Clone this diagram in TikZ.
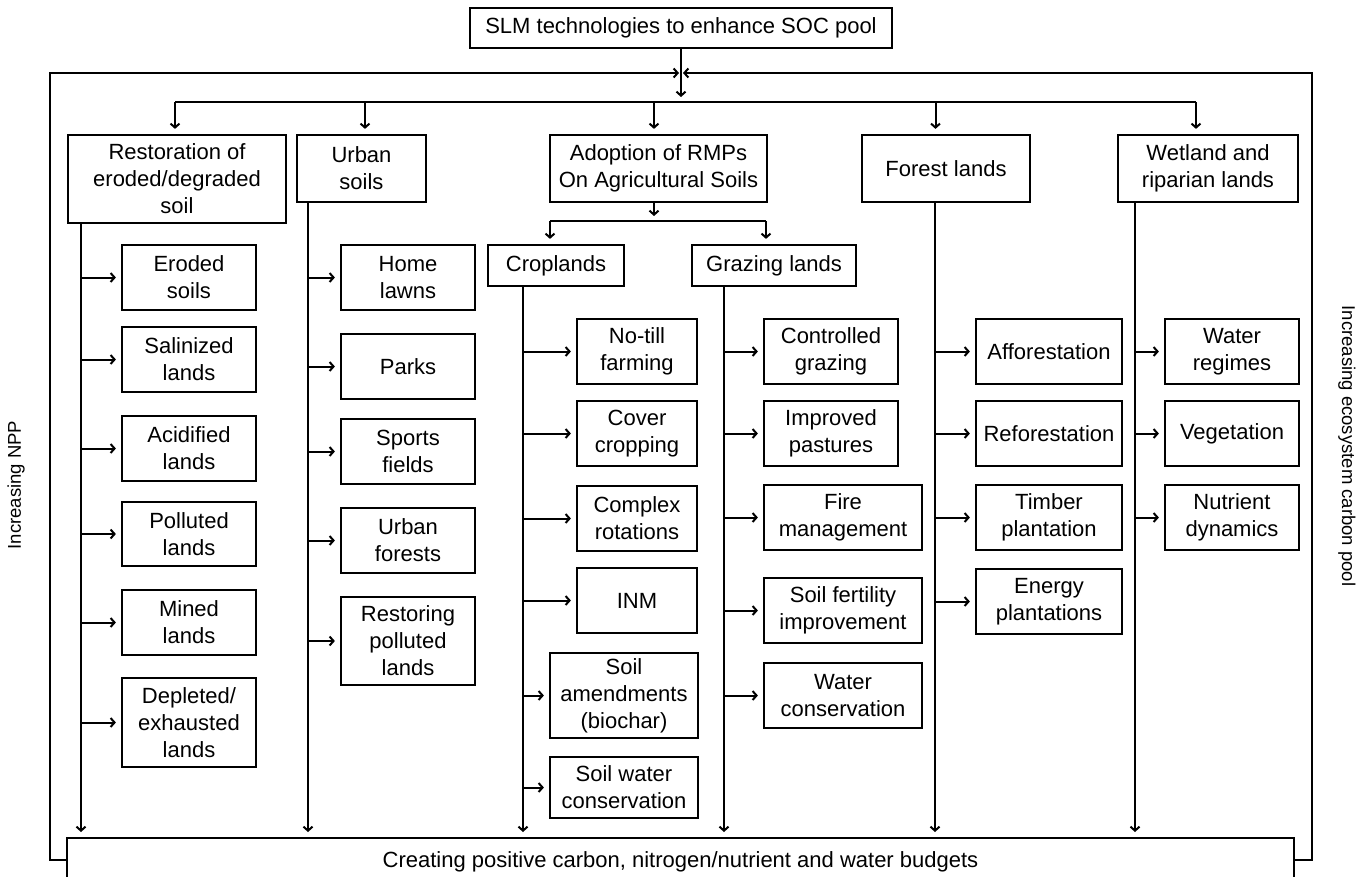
\documentclass[tikz,border=0pt]{standalone}
\usepackage{fontspec}
\setmainfont{Liberation Sans}
\usetikzlibrary{arrows.meta,calc}
\newcommand\bx[6]{\node[box,minimum width={(#4)-(#2)},minimum height={(#5)-(#3)}] (#1) at ({((#2)+(#4))/2},{((#3)+(#5))/2}) {#6};}
\begin{document}
\begin{tikzpicture}[x=1pt,y=-1pt,
  box/.style={draw,line width=2.2pt,inner sep=0pt,align=center,font=\fontsize{22}{27}\selectfont},
  arr/.style={line width=2pt,-{Straight Barb[length=4pt,width=9pt]},shorten >=5pt},
  ln/.style={line width=2pt},
  side/.style={font=\fontsize{18.5}{22}\selectfont}]
\useasboundingbox (0,0) rectangle (1371,876);
% top level
\bx{title}{470}{8}{892}{48}{SLM technologies to enhance SOC pool}
\bx{rest}{68}{135}{286}{223}{Restoration of\\eroded/degraded\\soil}
\bx{urban}{297}{135}{426}{202}{Urban\\soils}
\bx{adop}{550}{135}{767}{202}{Adoption of RMPs\\On Agricultural Soils}
\bx{forest}{862}{135}{1030}{202}{Forest lands}
\bx{wet}{1118}{135}{1298}{202}{Wetland and\\riparian lands}
\bx{crop}{488}{245}{624}{286}{Croplands}
\bx{graz}{692}{245}{856}{286}{Grazing lands}
% restoration children
\bx{eroded}{122}{245}{256}{310}{Eroded\\soils}
\bx{salin}{122}{327}{256}{392}{Salinized\\lands}
\bx{acid}{122}{416}{256}{481}{Acidified\\lands}
\bx{poll}{122}{502}{256}{566}{Polluted\\lands}
\bx{mined}{122}{590}{256}{655}{Mined\\lands}
\bx{depl}{122}{678}{256}{767}{Depleted/\\exhausted\\lands}
% urban children
\bx{home}{341}{245}{475}{310}{Home\\lawns}
\bx{parks}{341}{334}{475}{399}{Parks}
\bx{sports}{341}{419}{475}{484}{Sports\\fields}
\bx{ufor}{341}{508}{475}{573}{Urban\\forests}
\bx{restp}{341}{597}{475}{685}{Restoring\\polluted\\lands}
% cropland children
\bx{notill}{577}{319}{697}{384}{No-till\\farming}
\bx{cover}{577}{401}{697}{466}{Cover\\cropping}
\bx{compl}{577}{486}{697}{551}{Complex\\rotations}
\bx{inm}{577}{568}{697}{633}{INM}
\bx{amend}{550}{653}{698}{738}{Soil\\amendments\\(biochar)}
\bx{swc}{550}{757}{698}{818}{Soil water\\conservation}
% grazing children
\bx{contr}{764}{319}{898}{384}{Controlled\\grazing}
\bx{impr}{764}{401}{898}{466}{Improved\\pastures}
\bx{fire}{764}{485}{922}{550}{Fire\\management}
\bx{fert}{764}{578}{922}{643}{Soil fertility\\improvement}
\bx{wcons}{764}{663}{922}{728}{Water\\conservation}
% forest children
\bx{affo}{976}{319}{1122}{384}{Afforestation}
\bx{refo}{976}{401}{1122}{466}{Reforestation}
\bx{timb}{976}{485}{1122}{550}{Timber\\plantation}
\bx{ener}{976}{569}{1122}{634}{Energy\\plantations}
% wetland children
\bx{wreg}{1165}{319}{1299}{384}{Water\\regimes}
\bx{veg}{1165}{401}{1299}{466}{Vegetation}
\bx{nutr}{1165}{485}{1299}{550}{Nutrient\\dynamics}
% bottom box
\node[box,anchor=north,minimum width=1227pt,text height=29pt,text depth=14pt] (bot) at (680.5,837) {Creating positive carbon, nitrogen/nutrient and water budgets};
% side labels
\node[side,rotate=90] (npp) at (16,485) {Increasing NPP};
\node[side,rotate=-90] (ecp) at (1347,446) {Increasing ecosystem carbon pool};
% distributor
\coordinate (j) at (title.south |- 0,73);
\coordinate (dl) at (175,102);
\coordinate (d2) at (365,102);
\coordinate (d3) at (654,102);
\coordinate (d4) at (935.5,102);
\coordinate (dr) at (1196,102);
\draw[arr] (title.south) -- (title.south |- dl);
\draw[ln] (dl) -- (dr);
\draw[arr] (dl) -- (dl |- rest.north);
\draw[arr] (d2) -- (d2 |- urban.north);
\draw[arr] (d3) -- (d3 |- adop.north);
\draw[arr] (d4) -- (d4 |- forest.north);
\draw[arr] (dr) -- (dr |- wet.north);
% feedback loops
\coordinate (lc) at (50,73);
\coordinate (rc) at (1312,73);
\draw[arr,shorten >=2pt] (bot.west) -| (lc) -- (j);
\draw[arr,shorten >=2pt] (bot.east) -| (rc) -- (j);
% agricultural sub-distributor
\coordinate (s) at (654,221);
\coordinate (sl) at (550,221);
\coordinate (sr) at (766,221);
\draw[arr] (adop.south -| s) -- (s);
\draw[ln] (sl) -- (sr);
\draw[arr] (sl) -- (sl |- crop.north);
\draw[arr] (sr) -- (sr |- graz.north);
% trunks and branches
\foreach \p/\tx/\kids in {rest/81/{eroded,salin,acid,poll,mined,depl},
  urban/308/{home,parks,sports,ufor,restp},
  crop/523/{notill,cover,compl,inm,amend,swc},
  graz/724/{contr,impr,fire,fert,wcons},
  forest/935/{affo,refo,timb,ener},
  wet/1135/{wreg,veg,nutr}}{
  \coordinate (t) at (\tx,0);
  \draw[arr] (\p.south -| t) -- (t |- bot.north);
  \foreach \k in \kids {\draw[arr] (t |- \k.west) -- (\k.west);}
}
\end{tikzpicture}
\end{document}
